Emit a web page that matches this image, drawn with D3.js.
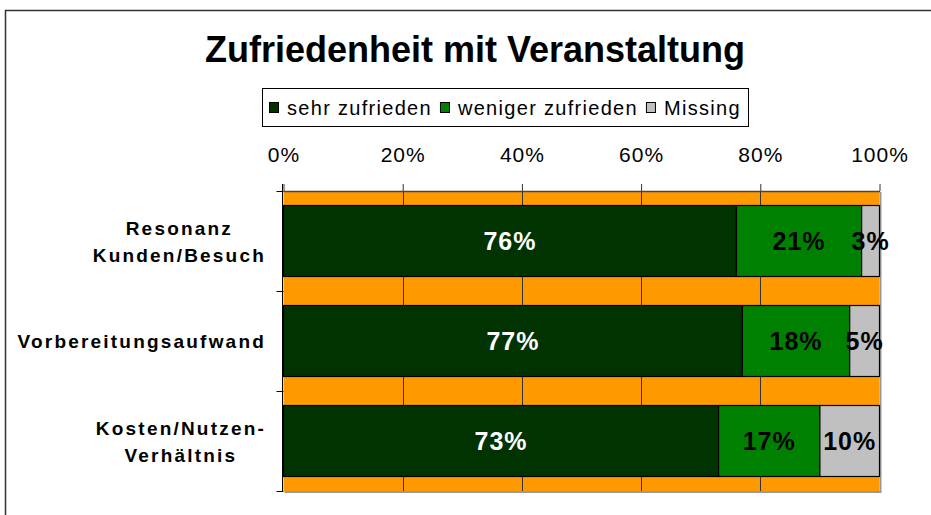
<!DOCTYPE html>
<html>
<head>
<meta charset="utf-8">
<script src="https://cdn.jsdelivr.net/npm/d3@7"></script>
<style>
  body { margin: 0; background: #fff; overflow: hidden; }
  text { font-family: "Liberation Sans", Arial, sans-serif; }
</style>
</head>
<body>
<div id="chart"></div>
<script>
// data
var titleText = "Zufriedenheit mit Veranstaltung";
var categories = ["Resonanz Kunden/Besuch", "Vorbereitungsaufwand", "Kosten/Nutzen-Verhältnis"];
var categoryLines = [["Resonanz", "Kunden/Besuch"], ["Vorbereitungsaufwand"], ["Kosten/Nutzen-", "Verhältnis"]];
var seriesNames = ["sehr zufrieden", "weniger zufrieden", "Missing"];
var seriesColors = ["#003300", "#008000", "#c0c0c0"];
var sehrZufrieden = [76, 77, 73];
var wenigerZufrieden = [21, 18, 17];
var missing = [3, 5, 10];
var tickValues = [0, 20, 40, 60, 80, 100];

var width = 931,
	height = 515,
	plotLeft = 283.5,
	plotRight = 879.5,
	plotTop = 191,
	plotBottom = 491,
	labelRight = 266;

var rows = categories.map(function (c, i) {
	return { cat: c, s0: sehrZufrieden[i], s1: wenigerZufrieden[i], s2: missing[i] };
});
var stacked = d3.stack().keys(["s0", "s1", "s2"])(rows);

var svg = d3.select("#chart").append("svg")
	.attr("width", width)
	.attr("height", height)
	.style("display", "block")
	.attr("xmlns", "http://www.w3.org/2000/svg");

// outer frame (only top and left visible)
svg.append("path")
	.attr("d", "M5.5,515 V10.5 H931")
	.attr("fill", "none")
	.attr("stroke", "#333")
	.attr("stroke-width", 1.5);

// title
svg.append("text")
	.text(titleText)
	.attr("x", 475)
	.attr("y", 62)
	.attr("text-anchor", "middle")
	.attr("font-size", "36px")
	.attr("font-weight", "bold")
	.attr("fill", "#000");

// legend
var legend = svg.append("g");
legend.append("rect")
	.attr("x", 262.5)
	.attr("y", 88.5)
	.attr("width", 486)
	.attr("height", 38)
	.attr("fill", "#fff")
	.attr("stroke", "#000");

var lx = 269;
seriesNames.forEach(function (name, i) {
	legend.append("rect")
		.attr("x", lx + 0.5)
		.attr("y", 102.5)
		.attr("width", 9)
		.attr("height", 10)
		.attr("fill", seriesColors[i])
		.attr("stroke", "#000");
	var t = legend.append("text")
		.text(name)
		.attr("x", lx + 18)
		.attr("y", 114.5)
		.attr("font-size", "20px")
		.attr("letter-spacing", "1.3px")
		.attr("fill", "#000");
	lx += 18 + t.node().getComputedTextLength() + 8;
});

// scales
var x = d3.scaleLinear().domain([0, 100]).range([plotLeft, plotRight]);
var y = d3.scaleBand().domain(categories).range([plotTop, plotBottom])
	.paddingInner(0.29).paddingOuter(0.145);

// plot background + shadow
svg.append("path")
	.attr("d", "M" + (plotRight + 1) + "," + (plotTop + 1) + " V" + (plotBottom + 1) + " H" + (plotLeft + 1))
	.attr("fill", "none")
	.attr("stroke", "#999")
	.attr("stroke-width", 2);
svg.append("rect")
	.attr("x", plotLeft)
	.attr("y", plotTop)
	.attr("width", plotRight - plotLeft)
	.attr("height", plotBottom - plotTop)
	.attr("fill", "#ff9900");

// gridlines
svg.append("g").selectAll("line")
	.data(tickValues.slice(1, -1))
	.enter().append("line")
	.attr("x1", function (d) { return Math.round(x(d)) + 0.5; })
	.attr("x2", function (d) { return Math.round(x(d)) + 0.5; })
	.attr("y1", plotTop)
	.attr("y2", plotBottom)
	.attr("stroke", "#333");

// top axis
var xAxis = svg.append("g")
	.attr("transform", "translate(0," + plotTop + ")")
	.call(d3.axisTop(x).tickValues(tickValues).tickSizeInner(7).tickSizeOuter(0).tickPadding(22)
		.tickFormat(function (d) { return d + "%"; }));
xAxis.select(".domain").attr("stroke", "#444").attr("stroke-width", 1.5);
xAxis.selectAll(".tick line").attr("stroke", "#333");
xAxis.selectAll(".tick text")
	.attr("font-size", "21px")
	.attr("font-family", "\"Liberation Sans\", Arial, sans-serif")
	.attr("letter-spacing", "1px")
	.attr("fill", "#000");

// left axis
var yTicks = d3.range(categories.length + 1).map(function (i) { return plotTop + i * y.step(); });
svg.append("line")
	.attr("x1", plotLeft - 1).attr("x2", plotLeft - 1)
	.attr("y1", plotTop - 7).attr("y2", plotBottom)
	.attr("stroke", "#000");
svg.append("g").selectAll("line")
	.data(yTicks)
	.enter().append("line")
	.attr("x1", plotLeft - 7).attr("x2", plotLeft)
	.attr("y1", function (d) { return d + 0.5; })
	.attr("y2", function (d) { return d + 0.5; })
	.attr("stroke", "#000");

// bars
var layers = svg.append("g").selectAll("g.layer")
	.data(stacked)
	.enter().append("g")
	.attr("class", "layer")
	.attr("fill", function (d, i) { return seriesColors[i]; });

layers.selectAll("rect")
	.data(function (d) { return d; })
	.enter().append("rect")
	.attr("x", function (d) { return x(d[0]); })
	.attr("y", function (d) { return y(d.data.cat); })
	.attr("width", function (d) { return x(d[1]) - x(d[0]); })
	.attr("height", y.bandwidth())
	.attr("stroke", "#000")
	.attr("stroke-width", 1.2);

// value labels
stacked.forEach(function (layer, i) {
	svg.append("g").selectAll("text")
		.data(layer)
		.enter().append("text")
		.text(function (d) { return (d[1] - d[0]) + "%"; })
		.attr("x", function (d) { return (x(d[0]) + x(d[1])) / 2; })
		.attr("y", function (d) { return y(d.data.cat) + y.bandwidth() / 2; })
		.attr("dy", "0.37em")
		.attr("text-anchor", "middle")
		.attr("font-size", "25px")
		.attr("font-weight", "bold")
		.attr("letter-spacing", "1px")
		.attr("fill", i === 0 ? "#fff" : "#000");
});

// category labels
categories.forEach(function (c, i) {
	var lines = categoryLines[i];
	var cy = y(c) + y.bandwidth() / 2;
	var t = svg.append("text")
		.attr("text-anchor", "middle")
		.attr("font-size", "19px")
		.attr("font-weight", "bold")
		.attr("letter-spacing", "2.2px")
		.attr("fill", "#000");
	var spans = t.selectAll("tspan")
		.data(lines)
		.enter().append("tspan")
		.text(function (d) { return d; })
		.attr("y", function (d, j) { return cy + 7 - (lines.length - 1) * 13.5 + j * 27; });
	var maxW = 0;
	spans.each(function () { maxW = Math.max(maxW, this.getComputedTextLength()); });
	spans.attr("x", labelRight - maxW / 2);
});
</script>
</body>
</html>
